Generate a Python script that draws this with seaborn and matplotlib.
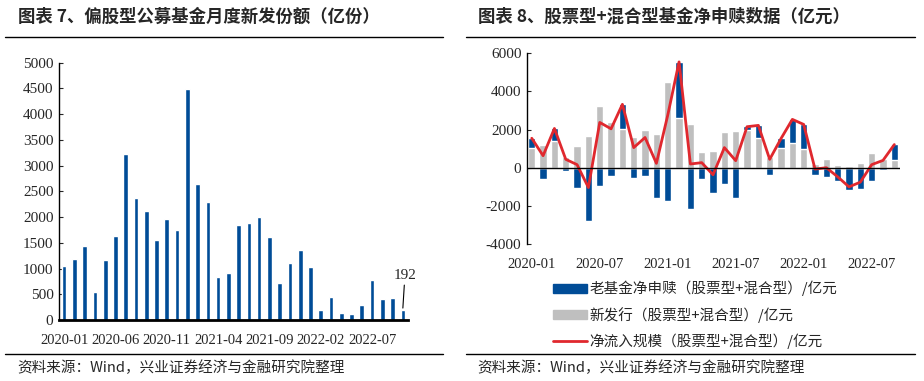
import numpy as np
import pandas as pd
import seaborn as sns
import matplotlib.pyplot as plt
from matplotlib.patches import Patch
from matplotlib.lines import Line2D

# left chart: monthly new issuance of equity-biased funds (亿份)
months_left = pd.period_range("2020-01", "2022-10", freq="M").strftime("%Y-%m").tolist()
issue_shares = [1050, 1185, 1440, 545, 1165, 1630, 3225, 2370, 2120, 1555,
                1960, 1750, 4490, 2640, 2295, 835, 915, 1845, 1885, 2000,
                1615, 720, 1105, 1360, 1030, 195, 450, 135, 120, 290,
                775, 410, 430, 192]
left_ticks = ["2020-01", "2020-06", "2020-11", "2021-04", "2021-09", "2022-02", "2022-07"]

# right chart: net subscription of stock+hybrid funds (亿元)
months_right = pd.period_range("2020-01", "2022-09", freq="M").strftime("%Y-%m").tolist()
new_issue = [1020, 1170, 1375, 545, 1160, 1640, 3220, 2395, 2040, 1585,
             1955, 1745, 4490, 2590, 2270, 845, 900, 1850, 1920, 1955,
             1550, 545, 1055, 1320, 970, 210, 440, 160, 105, 265,
             790, 440, 390]
old_net = [520, -590, 690, -195, -1040, -2800, -935, -425, 1290, -565,
           -460, -1565, -1745, 2960, -2165, -615, -1320, -830, -1565, 230,
           670, -370, 480, 1215, 1300, -370, -510, -690, -1145, -1090,
           -690, -105, 830]
net_inflow = [1545, 630, 2060, 440, 160, -1040, 2375, 2040, 3325, 1055,
              1585, 230, 2750, 5550, 195, 265, -370, 1055, 370, 2150,
              2220, 440, 1530, 2535, 2270, -70, 0, -475, -1005, -755,
              160, 385, 1215]
right_ticks = ["2020-01", "2020-07", "2021-01", "2021-07", "2022-01", "2022-07"]

BLUE = "#004C97"
GRAY = "#BFBFBF"
RED = "#E0282E"
CJK = ["Noto Sans CJK SC", "DejaVu Sans"]

sns.set_style("white")
plt.rcParams["font.family"] = ["Liberation Serif", "Noto Sans CJK SC"]
plt.rcParams["axes.unicode_minus"] = False

W, H = 924, 381
fig = plt.figure(figsize=(W / 100, H / 100), dpi=100)


def fx(px):
    return px / W


def fy(py):
    return 1 - py / H


# ---- left panel ----
ax1 = fig.add_axes([fx(59), fy(320), fx(408) - fx(59), fy(62.7) - fy(320)])
df_left = pd.DataFrame({"month": months_left, "value": issue_shares})
sns.barplot(data=df_left, x="month", y="value", color=BLUE, width=0.45,
            saturation=1, ax=ax1)
ax1.set_xlim(-0.5, len(months_left) - 0.5)
ax1.set_ylim(0, 5000)
ax1.set_yticks(np.arange(0, 5001, 500))
ax1.set_xticks([months_left.index(m) for m in left_ticks])
ax1.set_xticklabels(left_ticks)
ax1.set_xlabel("")
ax1.set_ylabel("")
for s in ["top", "right"]:
    ax1.spines[s].set_visible(False)
ax1.spines["left"].set_color("black")
ax1.spines["left"].set_linewidth(1)
ax1.spines["bottom"].set_color("black")
ax1.spines["bottom"].set_linewidth(2)
ax1.tick_params(axis="x", length=0, labelsize=10.5, pad=10)
ax1.tick_params(axis="y", length=3, direction="in", labelsize=11, pad=4, left=True)
ax1.annotate(f"{issue_shares[-1]}", xy=(len(months_left) - 1, issue_shares[-1] + 40),
             xytext=(len(months_left) - 1 + 0.2, issue_shares[-1] + 550),
             ha="center", va="bottom", fontsize=11,
             arrowprops=dict(arrowstyle="-", color="black", lw=0.8,
                             shrinkA=0, shrinkB=0))

# ---- right panel ----
ax2 = fig.add_axes([fx(527), fy(244), fx(900) - fx(527), fy(53.3) - fy(244)])
gray_arr = np.array(new_issue)
blue_arr = np.array(old_net)
blue_top = np.where(blue_arr > 0, gray_arr + blue_arr, blue_arr)
df_right = pd.DataFrame({"month": months_right, "gray": gray_arr,
                         "blue": blue_top, "net": net_inflow})
sns.barplot(data=df_right, x="month", y="blue", color=BLUE, width=0.65,
            saturation=1, ax=ax2)
sns.barplot(data=df_right, x="month", y="gray", color=GRAY, width=0.65,
            saturation=1, ax=ax2)
sns.lineplot(x=np.arange(len(months_right)), y=net_inflow, color=RED,
             linewidth=2, ax=ax2)
ax2.axhline(0, color="black", lw=1)
ax2.set_xlim(-0.42, len(months_right) - 0.5)
ax2.set_ylim(-4000, 6000)
ax2.set_yticks(np.arange(-4000, 6001, 2000))
ax2.set_xticks([months_right.index(m) for m in right_ticks])
ax2.set_xticklabels(right_ticks)
ax2.set_xlabel("")
ax2.set_ylabel("")
for s in ["top", "right", "bottom"]:
    ax2.spines[s].set_visible(False)
ax2.spines["left"].set_color("black")
ax2.spines["left"].set_linewidth(1)
ax2.tick_params(axis="x", length=0, labelsize=10.5, pad=10)
ax2.tick_params(axis="y", length=3, direction="in", labelsize=11, pad=4, left=True)

handles = [Patch(color=BLUE), Patch(color=GRAY), Line2D([], [], color=RED, lw=2)]
labels = ["老基金净申赎（股票型+混合型）/亿元",
          "新发行（股票型+混合型）/亿元",
          "净流入规模（股票型+混合型）/亿元"]
fig.legend(handles, labels, loc="upper left", bbox_to_anchor=(fx(553), fy(281)),
           frameon=False, borderpad=0, borderaxespad=0, handlelength=2.3,
           handleheight=0.55, handletextpad=0.2, labelspacing=0.72,
           prop={"family": CJK, "size": 10.5})

# ---- titles, rules, sources ----
fig.text(fx(18), fy(17), "图表 7、偏股型公募基金月度新发份额（亿份）", family=CJK,
         fontsize=12.5, fontweight="bold", va="center", ha="left")
fig.text(fx(478), fy(17), "图表 8、股票型+混合型基金净申赎数据（亿元）", family=CJK,
         fontsize=12.5, fontweight="bold", va="center", ha="left")
for x0, x1 in [(5, 443), (466, 915)]:
    for yy in (36.7, 354):
        fig.add_artist(Line2D([fx(x0), fx(x1)], [fy(yy), fy(yy)], color="black", lw=1))
fig.text(fx(17), fy(368), "资料来源：Wind，兴业证券经济与金融研究院整理", family=CJK,
         fontsize=10.5, va="center", ha="left")
fig.text(fx(477), fy(368), "资料来源：Wind，兴业证券经济与金融研究院整理", family=CJK,
         fontsize=10.5, va="center", ha="left")

fig.savefig("out.png", dpi=100)
